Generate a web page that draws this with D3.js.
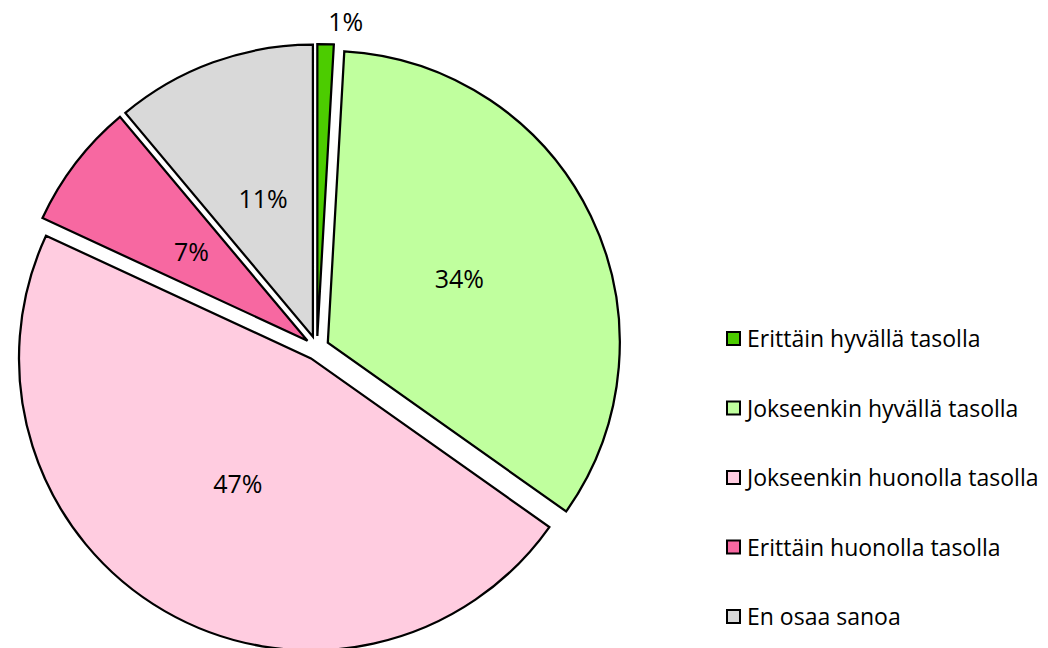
<!DOCTYPE html>
<html>
<head>
<meta charset="utf-8">
<script src="https://cdn.jsdelivr.net/npm/d3@7"></script>
<style>
  html, body { margin: 0; padding: 0; background: #fff; }
  svg { display: block; }
</style>
</head>
<body>
<svg id="chart" width="1048" height="648"></svg>
<script>
const categories = [
  "Erittäin hyvällä tasolla",
  "Jokseenkin hyvällä tasolla",
  "Jokseenkin huonolla tasolla",
  "Erittäin huonolla tasolla",
  "En osaa sanoa"
];
const values = [0.9, 33.9, 47.1, 7.0, 11.1];
const colors = ["#4ccc00", "#c0ff9e", "#ffcce0", "#f768a1", "#d9d9d9"];

const W = 1048, H = 648;
const cx = 317, cy = 348, R = 292, explode = 12;
const fontFamily = "'Open Sans', sans-serif";

const svg = d3.select("#chart");
const pie = d3.pie().sort(null).value(d => d).startAngle(0).endAngle(2 * Math.PI);
const arcs = pie(values);
const arc = d3.arc().innerRadius(0).outerRadius(R);

const g = svg.append("g").attr("transform", `translate(${cx},${cy})`);

const slices = g.selectAll("g.slice").data(arcs).enter().append("g")
  .attr("class", "slice")
  .attr("transform", d => {
    const m = (d.startAngle + d.endAngle) / 2;
    return `translate(${explode * Math.sin(m)},${-explode * Math.cos(m)})`;
  });

slices.append("path")
  .attr("d", arc)
  .attr("fill", (d, i) => colors[i])
  .attr("stroke", "#000")
  .attr("stroke-width", 2.25)
  .attr("stroke-linejoin", "miter");

// labels
slices.each(function(d, i) {
  const m = (d.startAngle + d.endAngle) / 2;
  const sel = d3.select(this);
  const txt = Math.round(d.data) + "%";
  if (d.data < 2) {
    const r = R + 22;
    sel.append("text")
      .attr("x", r * Math.sin(m) + 2)
      .attr("y", -r * Math.cos(m))
      .attr("dy", "0.35em")
      .attr("text-anchor", "start")
      .attr("font-family", fontFamily)
      .attr("font-size", 25)
      .attr("fill", "#000")
      .text(txt);
  } else {
    const r = R / 2;
    sel.append("text")
      .attr("x", r * Math.sin(m))
      .attr("y", -r * Math.cos(m))
      .attr("dy", "0.35em")
      .attr("text-anchor", "middle")
      .attr("font-family", fontFamily)
      .attr("font-size", 25)
      .attr("fill", "#000")
      .text(txt);
  }
});

// legend
const legendY = d3.scalePoint().domain(categories).range([339, 617]);
const lg = svg.append("g");
const items = lg.selectAll("g.item").data(categories).enter().append("g")
  .attr("class", "item")
  .attr("transform", d => `translate(727,${legendY(d)})`);
items.append("rect")
  .attr("x", 0).attr("y", -7).attr("width", 13).attr("height", 13)
  .attr("fill", (d, i) => colors[i])
  .attr("stroke", "#000").attr("stroke-width", 2);
items.append("text")
  .attr("x", 20).attr("y", 0).attr("dy", "0.35em")
  .attr("font-family", fontFamily)
  .attr("font-size", 23)
  .attr("fill", "#000")
  .text(d => d);
</script>
</body>
</html>
